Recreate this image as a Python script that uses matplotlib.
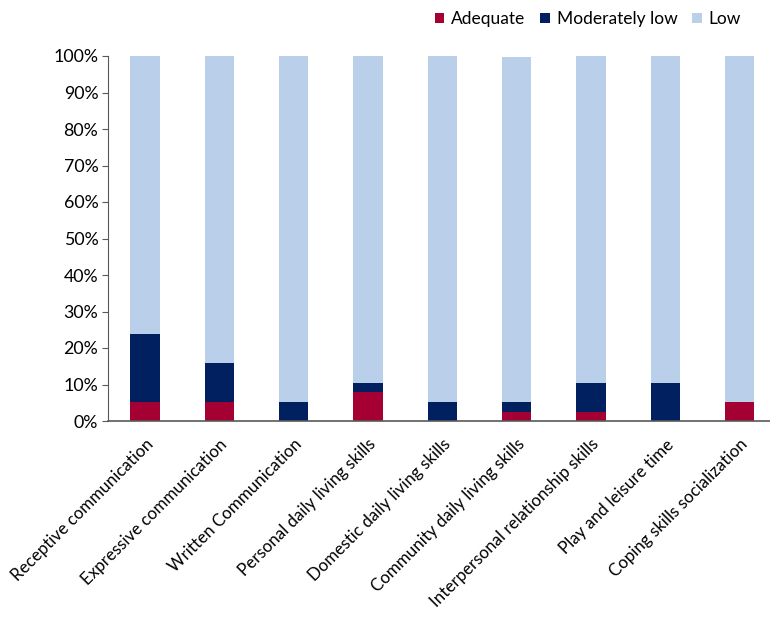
import numpy as np
import matplotlib.pyplot as plt

plt.rcParams['font.family'] = ['Lato', 'DejaVu Sans']

# skill domains and share of each level (%)
domains = ["Receptive communication", "Expressive communication",
           "Written Communication", "Personal daily living skills",
           "Domestic daily living skills", "Community daily living skills",
           "Interpersonal relationship skills", "Play and leisure time",
           "Coping skills socialization"]
adequate = [5.3, 5.3, 0.0, 7.9, 0.0, 2.6, 2.6, 0.0, 5.3]
moderately_low = [18.4, 10.5, 5.3, 2.6, 5.3, 2.6, 7.9, 10.5, 0.0]
low = [76.3, 84.2, 94.7, 89.5, 94.7, 94.6, 89.5, 89.5, 94.7]

colors = {"Adequate": "#A50034", "Moderately low": "#002060", "Low": "#B9CFEA"}

fig = plt.figure(figsize=(7.7, 6.22), dpi=100)
ax = fig.add_axes([108 / 770, 1 - 421 / 622, 662 / 770, 365 / 622])

x = np.arange(len(domains))
w = 0.395
ax.bar(x, adequate, w, color=colors["Adequate"], label="Adequate")
ax.bar(x, moderately_low, w, bottom=adequate,
       color=colors["Moderately low"], label="Moderately low")
ax.bar(x, low, w, bottom=np.add(adequate, moderately_low),
       color=colors["Low"], label="Low")

ax.set_xlim(-0.5, 8.41)
ax.set_ylim(0, 100)
ax.set_yticks(np.arange(0, 101, 10))
ax.set_yticklabels([f"{v}%" for v in range(0, 101, 10)], fontsize=12.8)
ax.set_xticks(x)
ax.set_xticklabels(domains, rotation=45, ha="right", rotation_mode="anchor",
                   fontsize=12.2)
ax.tick_params(axis="x", length=0, pad=11)
ax.tick_params(axis="y", length=4, width=0.8, color="#595959", pad=3)

for side in ["top", "right"]:
    ax.spines[side].set_visible(False)
ax.spines["left"].set_color("#595959")
ax.spines["bottom"].set_color("#595959")
ax.spines["bottom"].set_linewidth(1.2)

ax.legend(loc="upper right", bbox_to_anchor=(0.98, 1.165), ncol=3, frameon=False,
          fontsize=12.5, handlelength=0.55, handleheight=0.55, handletextpad=0.4,
          columnspacing=0.85)

plt.savefig("out.png")
